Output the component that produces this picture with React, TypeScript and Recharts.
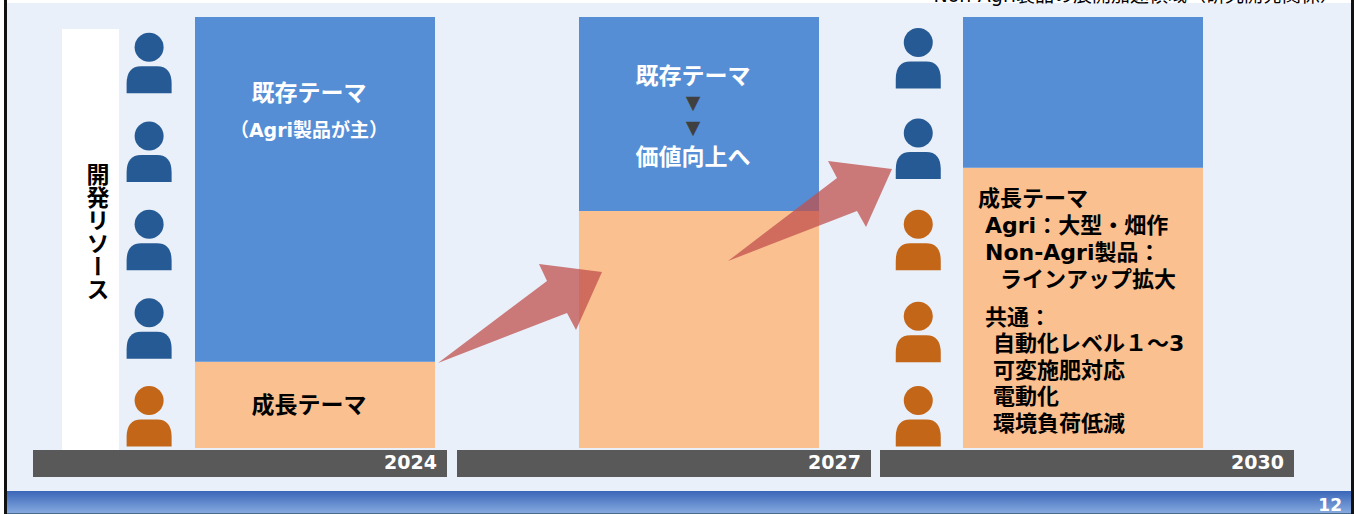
import { Bar, ComposedChart, LabelList, Scatter, XAxis, YAxis } from "recharts";

const FONT = '"DejaVu Sans", "Noto Sans CJK JP", sans-serif';
const BLUE = "#558ed5";
const ORANGE = "#fac090";
const PERSON_BLUE = "#265a94";
const PERSON_ORANGE = "#c46617";

// share of development resources per year, in percent
const years = ["2024", "2027", "2030"];
const growthShare = [20, 55, 65];
const existingShare = [80, 45, 35];

// people pictograms: column on the year scale, height on the percent scale
const peopleLeft = [89.4, 68.8, 48.3, 27.8, 7.4];
const peopleRight = [90.5, 69.5, 48.3, 27, 7.4];
const peopleLeftKinds = ["existing", "existing", "existing", "existing", "growth"];
const peopleRightKinds = ["existing", "existing", "growth", "growth", "growth"];

const existingLabels = [["既存テーマ", "（Agri製品が主）"], ["既存テーマ", "▼", "▼", "価値向上へ"], []];
const growthLabels = [["成長テーマ"], [], []];
const growthNotes = [
  "成長テーマ",
  "Agri：大型・畑作",
  "Non-Agri製品：",
  "ラインアップ拡大",
  "共通：",
  "自動化レベル１～3",
  "可変施肥対応",
  "電動化",
  "環境負荷低減",
];

const rows = years.map((year, i) => ({ year, growth: growthShare[i], existing: existingShare[i] }));
const people = [
  ...peopleLeft.map((level, i) => ({ column: 0.068, level, kind: peopleLeftKinds[i] })),
  ...peopleRight.map((level, i) => ({ column: 2.071, level, kind: peopleRightKinds[i] })),
];

function Person(props: any) {
  const { cx, cy, payload } = props;
  const fill = payload.kind === "growth" ? PERSON_ORANGE : PERSON_BLUE;
  return (
    <g transform={`translate(${cx},${cy})`} fill={fill}>
      <circle cx={0} cy={-15.5} r={14.5} />
      <path d="M-22.5 30.5 L-22.5 21 Q-22.5 3.5 -8 3.5 L8 3.5 Q22.5 3.5 22.5 21 L22.5 30.5 Z" />
    </g>
  );
}

// the year strips are wider than the bars and shifted against them
const stripShift = [-75, -35, 4];

function YearStrip(props: any) {
  const { x, y, index, payload } = props;
  const center = x + stripShift[index];
  return (
    <g>
      <rect x={center - 207} y={y} width={414} height={27} fill="#595959" />
      <text x={center + 197} y={y + 19} textAnchor="end" fontFamily={FONT} fontSize={19} fontWeight={700} fill="#fff">
        {payload.value}
      </text>
    </g>
  );
}

function ExistingLabel(props: any) {
  const { x, y, width, index } = props;
  const lines = existingLabels[index];
  const cx = x + width / 2 - 6;
  if (index === 0) {
    return (
      <g fontFamily={FONT} fontWeight={700} fill="#fff" textAnchor="middle">
        <text x={cx} y={y + 84} fontSize={23}>{lines[0]}</text>
        <text x={cx} y={y + 120} fontSize={19}>{lines[1]}</text>
      </g>
    );
  }
  if (index === 1) {
    return (
      <g fontFamily={FONT} fontWeight={700} textAnchor="middle" fontSize={23}>
        <text x={cx} y={y + 67} fill="#fff">{lines[0]}</text>
        <text x={cx} y={y + 92} fill="#404040" fontSize={19}>{lines[1]}</text>
        <text x={cx} y={y + 117} fill="#404040" fontSize={19}>{lines[2]}</text>
        <text x={cx} y={y + 148} fill="#fff">{lines[3]}</text>
      </g>
    );
  }
  return null;
}

function GrowthLabel(props: any) {
  const { x, y, width, height, index } = props;
  const text = growthLabels[index][0];
  if (!text) return null;
  return (
    <text x={x + width / 2 - 6} y={y + height / 2 + 8} textAnchor="middle" fontFamily={FONT} fontSize={23} fontWeight={700} fill="#000">
      {text}
    </text>
  );
}

function Chart() {
  return (
    <ComposedChart width={1354} height={514} data={rows} margin={{ top: 17, right: 79, bottom: 37, left: 123 }}>
      <XAxis
        dataKey="year"
        axisLine={false}
        tickLine={false}
        tickSize={0}
        tickMargin={2}
        height={29}
        interval={0}
        tick={<YearStrip />}
      />
      <YAxis hide domain={[0, 100]} />
      <XAxis xAxisId="people" type="number" dataKey="column" domain={[0, 3]} hide />
      <YAxis yAxisId="people" type="number" dataKey="level" domain={[0, 100]} hide />
      <Bar dataKey="growth" stackId="share" fill={ORANGE} barSize={240} isAnimationActive={false}>
        <LabelList content={<GrowthLabel />} />
      </Bar>
      <Bar dataKey="existing" stackId="share" fill={BLUE} barSize={240} isAnimationActive={false}>
        <LabelList content={<ExistingLabel />} />
      </Bar>
      <Scatter
        data={people}
        xAxisId="people"
        yAxisId="people"
        shape={<Person />}
        isAnimationActive={false}
      />
    </ComposedChart>
  );
}

// left edge and baseline of each note line in the 2030 column
const noteX = [978, 985, 985, 1000, 985, 993, 993, 993, 993];
const noteY = [206, 233, 260, 287, 325, 351, 378, 404, 431];

function Overlay() {
  return (
    <svg width={1354} height={514} style={{ position: "absolute", left: 0, top: 0, pointerEvents: "none" }}>
      <g fill="#c0504d" fillOpacity={0.75}>
        <polygon points="438,363 547,281 539,264 602,272 576,330 567,313" />
        <polygon points="728,261 837,178 828,161 892,169 866,227 857,211" />
      </g>
      <g fontFamily={FONT} fontSize={22} fontWeight={700} fill="#000">
        {growthNotes.map((line, i) => (
          <text key={line} x={noteX[i]} y={noteY[i]}>{line}</text>
        ))}
      </g>
      <text
        x={96}
        y={163}
        fontFamily={FONT}
        fontSize={23}
        fontWeight={700}
        fill="#000"
        style={{ writingMode: "vertical-rl" }}
      >
        開発リソース
      </text>
      <text x={1339} y={2} textAnchor="end" fontFamily={FONT} fontSize={19} fill="#000">
        Non-Agri製品の展開加速領域（研究開発関係）
      </text>
      <text x={1342} y={511} textAnchor="end" fontFamily={FONT} fontSize={17} fontWeight={700} fill="#fff">
        12
      </text>
    </svg>
  );
}

export default function App() {
  return (
    <div style={{ position: "absolute", left: 0, top: 0, width: 1354, height: 514, overflow: "hidden", background: "#fff" }}>
      <div style={{ position: "absolute", left: 4, top: 0, width: 3, height: 514, background: "#111" }} />
      <div style={{ position: "absolute", left: 1351, top: 0, width: 3, height: 514, background: "#111" }} />
      <div style={{ position: "absolute", left: 7, top: 3, width: 1344, height: 488, background: "#e9f0fa" }} />
      <div
        style={{
          position: "absolute",
          left: 7,
          top: 491,
          width: 1344,
          height: 22,
          background: "linear-gradient(#3a66b8, #85a9df)",
          borderBottom: "1px solid #4a6a8a",
        }}
      />
      <div style={{ position: "absolute", left: 62, top: 29, width: 57, height: 421, background: "#fff" }} />
      <Chart />
      <Overlay />
    </div>
  );
}
